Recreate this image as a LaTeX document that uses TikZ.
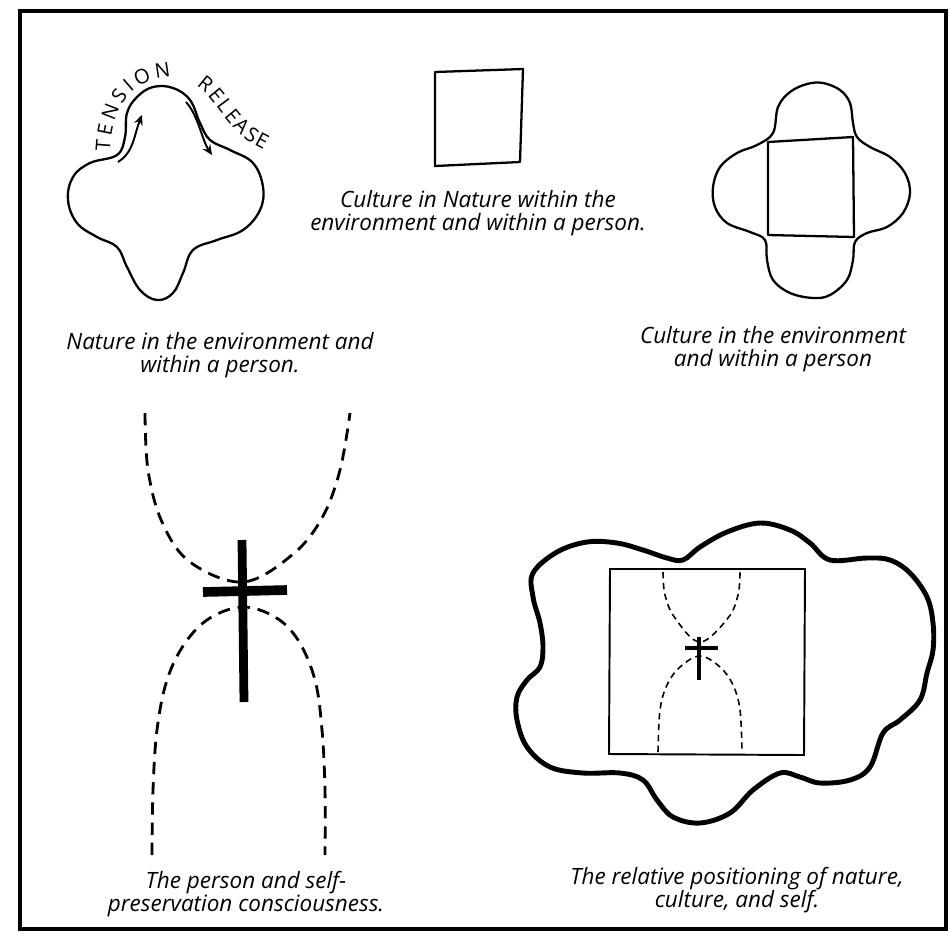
\documentclass[tikz,border=0pt]{standalone}
\usepackage{fontspec}
\setmainfont{Open Sans}
\usetikzlibrary{arrows.meta,decorations.text}

\begin{document}
\begin{tikzpicture}[x=0.02cm, y=-0.02cm, >={Stealth[length=2mm,width=1.8mm]},
  every node/.style={font=\itshape\fontsize{12.8}{13}\selectfont, align=center, inner sep=0pt},
  outline/.style={line width=1.3pt, line join=round},
  cloudline/.style={line width=2.8pt, line join=round},
  bigdash/.style={line width=1.6pt, dash pattern=on 7pt off 4.5pt},
  smalldash/.style={line width=0.9pt, dash pattern=on 3.6pt off 2.6pt},
  lettering/.style={decorate, decoration={text along path, text align=fit to path, text={|\fontsize{11.5}{12}\selectfont|#1}}}]
  \useasboundingbox (0,0) rectangle (949,934);
  % frame
  \draw[line width=2pt] (20,11) rectangle (946,929);

  % nature
  \draw[outline] plot[smooth cycle, tension=0.65] coordinates {(117,155) (90,163) (73,177) (68,200) (77,223) (97,237) (117,247) (127,267) (140,290) (157,300) (173,293) (183,273) (193,250) (217,240) (243,230) (260,210) (263,187) (253,163) (230,150) (210,140) (200,123) (190,100) (173,88) (153,87) (137,97) (127,113) (125,137)};
  \draw[line width=1.1pt, ->] (118,162) .. controls (134,152) and (134,135) .. (142,115);
  \draw[line width=1.1pt, ->] (186,102) .. controls (198,115) and (202,140) .. (212,155);
  \path[lettering=TENSION] (110,151) .. controls (112,105) and (132,79) .. (171,77);
  \path[lettering=RELEASE] (196,86) .. controls (218,99) and (225,132) .. (264,150);
  \node (naturetxt) at (220,355) {Nature in the environment and\\within a person.};

  % culture in nature
  \draw[outline] (435,72) -- (523,69) -- (520,162) -- (435,166) -- cycle;
  \node (cultnattxt) at (478,213) {Culture in Nature within the\\environment and within a person.};

  % culture
  \draw[outline] plot[smooth cycle, tension=0.6] coordinates {(778,107) (790,92) (807,84) (823,83) (840,90) (850,103) (853,123) (857,137) (870,147) (890,157) (905,173) (910,193) (903,213) (887,227) (867,233) (855,242) (853,260) (847,280) (830,295) (813,298) (790,293) (773,280) (767,260) (765,240) (750,232) (727,223) (715,207) (713,187) (720,167) (737,153) (757,145) (773,133)};
  \draw[outline] (768,142) -- (853,137) -- (854,237) -- (768,235) -- cycle;
  \node (culturetxt) at (773,349) {Culture in the environment\\and within a person};

  % person
  \draw[bigdash] plot[smooth, tension=0.6] coordinates {(145,413) (148,470) (162,522) (190,562) (243,582) (292,555) (322,518) (340,470) (350,413)};
  \draw[bigdash] plot[smooth, tension=0.6] coordinates {(152,855) (153,790) (157,730) (167,680) (185,643) (210,618) (243,607) (275,617) (298,640) (315,680) (322,730) (325,790) (325,855)};
  \draw[line width=5pt] (242,540) -- (244,702);
  \draw[line width=5.5pt] (203,592) -- (287,590);
  \node (persontxt) at (246,894) {The person and self-\\preservation consciousness.};

  % all together
  \draw[cloudline] plot[smooth cycle, tension=0.6] coordinates {(533,573) (557,552) (587,542) (617,543) (643,550) (667,558) (683,560) (700,547) (727,532) (760,523) (790,530) (810,543) (830,560) (867,558) (890,560) (910,573) (927,597) (933,623) (933,650) (927,673) (920,700) (900,720) (883,733) (870,767) (850,780) (820,783) (800,777) (780,773) (753,790) (730,813) (700,823) (673,817) (657,800) (643,780) (620,773) (583,773) (550,767) (527,747) (517,720) (517,697) (527,680) (540,667) (543,647) (540,623) (533,597)};
  \draw[line width=1.1pt] (610,569) -- (805,569) -- (804,755) -- (609,754) -- cycle;
  \draw[smalldash] plot[smooth, tension=0.6] coordinates {(663,572) (665,595) (675,618) (700,642) (728,618) (738,595) (740,572)};
  \draw[smalldash] plot[smooth, tension=0.6] coordinates {(658,752) (660,710) (667,685) (680,667) (700,656) (720,667) (733,685) (740,710) (742,752)};
  \draw[line width=2.2pt] (699,637) -- (699,680);
  \draw[line width=2.2pt] (685,648) -- (718,648);
  \node (wholetxt) at (737,890) {The relative positioning of nature,\\culture, and self.};
\end{tikzpicture}
\end{document}
